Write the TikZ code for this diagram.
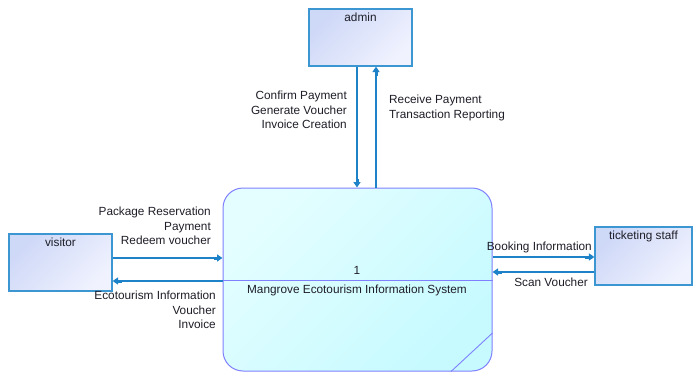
\documentclass[tikz,border=0pt]{standalone}
\usepackage{fontspec}
\setmainfont{Liberation Sans}
\usetikzlibrary{arrows.meta}
\definecolor{flowc}{RGB}{30,130,200}
\definecolor{entb}{RGB}{60,150,210}
\definecolor{entA}{RGB}{206,216,247}
\definecolor{entB}{RGB}{240,242,254}
\definecolor{procb}{RGB}{128,128,255}
\definecolor{procA}{RGB}{228,254,255}
\definecolor{procB}{RGB}{198,250,255}
\definecolor{txt}{RGB}{30,30,40}
\tikzset{
  entity/.style={draw=entb, line width=1.2pt, rectangle, inner sep=0pt,
    top color=entA, bottom color=entB, shading angle=45},
  entlabel/.style={anchor=north, inner sep=0pt, yshift=-4.5pt, text=txt},
  procbox/.style={draw=procb, line width=1pt, rectangle, rounded corners=20pt,
    top color=procA, bottom color=procB, shading angle=45, inner sep=0pt},
  flow/.style={draw=flowc, line width=1.3pt,
    -{Rectangle[length=3.5pt,width=3pt]Triangle[length=5.5pt,width=7pt]}},
  lbl/.style={text=txt, inner sep=0pt, font=\fontsize{11.8}{14.6}\selectfont},
}
\begin{document}
\begin{tikzpicture}[x=1pt,y=-1pt, font=\fontsize{11.8}{14.6}\selectfont]
\useasboundingbox (0,0) rectangle (694,372);
\fill[white] (0,0) rectangle (694,372);
% process
\node[procbox, minimum width=269pt, minimum height=183pt] (proc) at (357.5,279.5) {};
\draw[procb, line width=1pt] (proc.west |- 0,280) -- (proc.east |- 0,280);
\draw[procb, line width=0.9pt] (proc.east |- 0,333) -- (proc.south -| 451,0);
\node[lbl] (pnum) at (357,270) {1};
\node[lbl] (pname) at (357,290) {Mangrove Ecotourism Information System};
% entities
\node[entity, minimum width=103pt, minimum height=57pt] (admin) at (360.5,37.5) {};
\node[entlabel] (adminl) at (admin.north) {admin};
\node[entity, minimum width=103pt, minimum height=57pt] (visitor) at (60.5,262.5) {};
\node[entlabel] (visitorl) at (visitor.north) {visitor};
\node[entity, minimum width=97pt, minimum height=58pt] (ticket) at (643.5,256) {};
\node[entlabel] (ticketl) at (ticket.north) {ticketing staff};
% flows admin
\draw[flow] (admin.south -| 357,0) -- (proc.north -| 357,0);
\draw[flow] (proc.north -| 376,0) -- (admin.south -| 376,0);
\node[lbl, anchor=east, align=right] (l1) at (347,110) {Confirm Payment\\Generate Voucher\\Invoice Creation};
\node[lbl, anchor=west, align=left] (l2) at (389,108) {Receive Payment\\Transaction Reporting};
% flows visitor
\draw[flow] (visitor.east |- 0,258) -- (proc.west |- 0,258);
\draw[flow] (proc.west |- 0,281) -- (visitor.east |- 0,281);
\node[lbl, anchor=east, align=right] (l3) at (211,226) {Package Reservation\\Payment\\Redeem voucher};
\node[lbl, anchor=east, align=right] (l4) at (216,310) {Ecotourism Information\\Voucher\\Invoice};
% flows ticketing
\draw[flow] (proc.east |- 0,257) -- (ticket.west |- 0,257);
\draw[flow] (ticket.west |- 0,272) -- (proc.east |- 0,272);
\node[lbl, anchor=east] (l5) at (592,247) {Booking Information};
\node[lbl, anchor=east] (l6) at (588,282) {Scan Voucher};
\end{tikzpicture}
\end{document}
